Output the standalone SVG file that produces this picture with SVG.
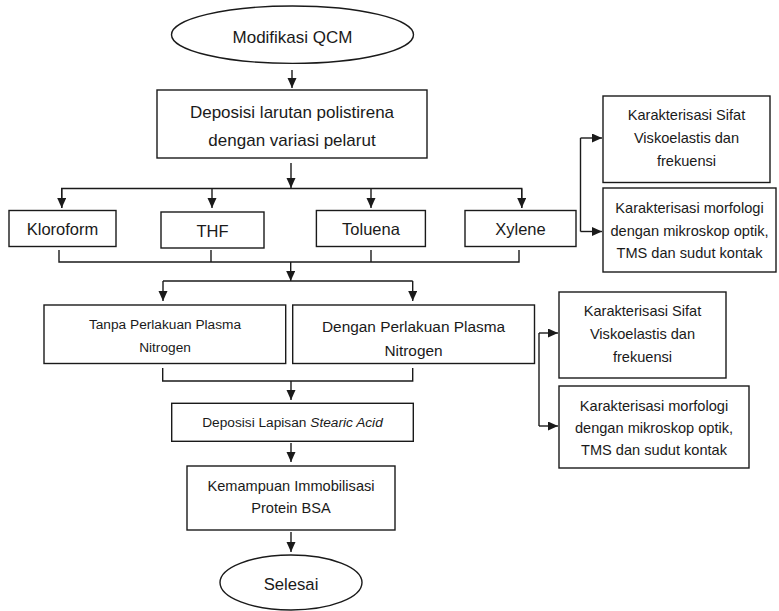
<svg xmlns="http://www.w3.org/2000/svg" width="779" height="611" viewBox="0 0 779 611">
<defs>
<marker id="ah" markerUnits="userSpaceOnUse" markerWidth="10" markerHeight="10" refX="10" refY="4.5" orient="auto">
<path d="M0,0 L10,4.5 L0,9 z" fill="#1a1a1a"/>
</marker>
<style>
.box{fill:#fff;stroke:#1a1a1a;stroke-width:1.4}
.c{fill:none;stroke:#1a1a1a;stroke-width:1.4}
.a{fill:none;stroke:#1a1a1a;stroke-width:1.4;marker-end:url(#ah)}
text{font-family:"Liberation Sans",Arial,sans-serif;fill:#1a1a1a;text-anchor:middle}
.t17{font-size:17px}
.t165{font-size:16.5px}
.t15{font-size:15.4px}
.t14{font-size:14.6px}
.t137{font-size:13.7px}
</style>
</defs>
<rect width="779" height="611" fill="#fff"/>

<g id="connectors">
<line class="a" x1="292" y1="70" x2="292" y2="88"/>
<line class="a" x1="291" y1="163" x2="291" y2="188"/>
<polyline class="c" points="61.7,208 61.7,188.5 521.7,188.5 521.7,208" style="marker-end:none"/>
<line class="a" x1="61.7" y1="188.5" x2="61.7" y2="208"/>
<line class="a" x1="212" y1="188.5" x2="212" y2="208"/>
<line class="a" x1="371" y1="188.5" x2="371" y2="208"/>
<line class="a" x1="521.7" y1="188.5" x2="521.7" y2="208"/>
<polyline class="c" points="59,250 59,262 519,262 519,250"/>
<line class="c" x1="211" y1="250" x2="211" y2="262"/>
<line class="c" x1="371" y1="250" x2="371" y2="262"/>
<line class="a" x1="290.7" y1="262" x2="290.7" y2="281"/>
<polyline class="c" points="163,281 412.7,281"/>
<line class="a" x1="163" y1="281" x2="163" y2="301"/>
<line class="a" x1="412.7" y1="281" x2="412.7" y2="301"/>
<polyline class="c" points="162.7,368 162.7,381 412.7,381 412.7,368"/>
<line class="a" x1="291" y1="381" x2="291" y2="400"/>
<line class="a" x1="291" y1="443" x2="291" y2="462"/>
<line class="a" x1="291" y1="532" x2="291" y2="552"/>
<polyline class="c" points="580.5,138 580.5,231.5"/>
<line class="a" x1="580.5" y1="138" x2="602" y2="138"/>
<line class="a" x1="580.5" y1="231.5" x2="602" y2="231.5"/>
<polyline class="c" points="539,333 539,426"/>
<line class="a" x1="539" y1="333" x2="558" y2="333"/>
<line class="a" x1="539" y1="426" x2="558" y2="426"/>
</g>

<g id="start">
<ellipse class="box" cx="292.5" cy="34.7" rx="121" ry="28.7"/>
<text class="t17" x="292.5" y="43">Modifikasi QCM</text>
</g>
<g id="deposisi">
<rect class="box" x="157" y="90" width="270" height="68"/>
<text class="t17" x="292" y="117.7">Deposisi larutan polistirena</text>
<text class="t17" x="292" y="146">dengan variasi pelarut</text>
</g>
<g id="kloroform">
<rect class="box" x="9" y="210.5" width="107" height="36"/>
<text class="t165" x="62.5" y="235">Kloroform</text>
</g>
<g id="thf">
<rect class="box" x="161" y="212" width="103" height="36"/>
<text class="t165" x="212.5" y="236.5">THF</text>
</g>
<g id="toluena">
<rect class="box" x="316.4" y="210.5" width="109" height="36"/>
<text class="t165" x="371" y="235">Toluena</text>
</g>
<g id="xylene">
<rect class="box" x="465" y="210.5" width="111" height="36"/>
<text class="t165" x="520.5" y="235">Xylene</text>
</g>
<g id="sifat1">
<rect class="box" x="603" y="96" width="167" height="86.5"/>
<text class="t14" x="686.5" y="120">Karakterisasi Sifat</text>
<text class="t14" x="686.5" y="143">Viskoelastis dan</text>
<text class="t14" x="686.5" y="166">frekuensi</text>
</g>
<g id="morfologi1">
<rect class="box" x="603" y="188" width="173" height="84"/>
<text class="t14" x="689.5" y="213">Karakterisasi morfologi</text>
<text class="t14" x="689.5" y="236">dengan mikroskop optik,</text>
<text class="t14" x="689.5" y="258">TMS dan sudut kontak</text>
</g>
<g id="tanpa">
<rect class="box" x="44" y="305" width="241.7" height="58.5"/>
<text class="t137" x="165" y="329">Tanpa Perlakuan Plasma</text>
<text class="t137" x="165" y="352">Nitrogen</text>
</g>
<g id="dengan">
<rect class="box" x="292.7" y="305" width="241.8" height="58.5"/>
<text class="t15" x="413.5" y="332">Dengan Perlakuan Plasma</text>
<text class="t15" x="413.5" y="356">Nitrogen</text>
</g>
<g id="sifat2">
<rect class="box" x="559" y="292" width="167" height="86"/>
<text class="t14" x="642.5" y="316">Karakterisasi Sifat</text>
<text class="t14" x="642.5" y="339">Viskoelastis dan</text>
<text class="t14" x="642.5" y="362">frekuensi</text>
</g>
<g id="morfologi2">
<rect class="box" x="559" y="386" width="190" height="82"/>
<text class="t14" x="654" y="411">Karakterisasi morfologi</text>
<text class="t14" x="654" y="433">dengan mikroskop optik,</text>
<text class="t14" x="654" y="455">TMS dan sudut kontak</text>
</g>
<g id="stearic">
<rect class="box" x="171.7" y="403.3" width="241.6" height="38"/>
<text class="t137" x="292.5" y="427">Deposisi Lapisan <tspan font-style="italic">Stearic Acid</tspan></text>
</g>
<g id="kemampuan">
<rect class="box" x="187" y="466" width="208" height="64"/>
<text class="t14" x="291" y="491">Kemampuan Immobilisasi</text>
<text class="t14" x="291" y="513">Protein BSA</text>
</g>
<g id="end">
<ellipse class="box" cx="291" cy="582.5" rx="71" ry="27.5"/>
<text style="font-size:16.7px" x="291" y="590">Selesai</text>
</g>
</svg>
